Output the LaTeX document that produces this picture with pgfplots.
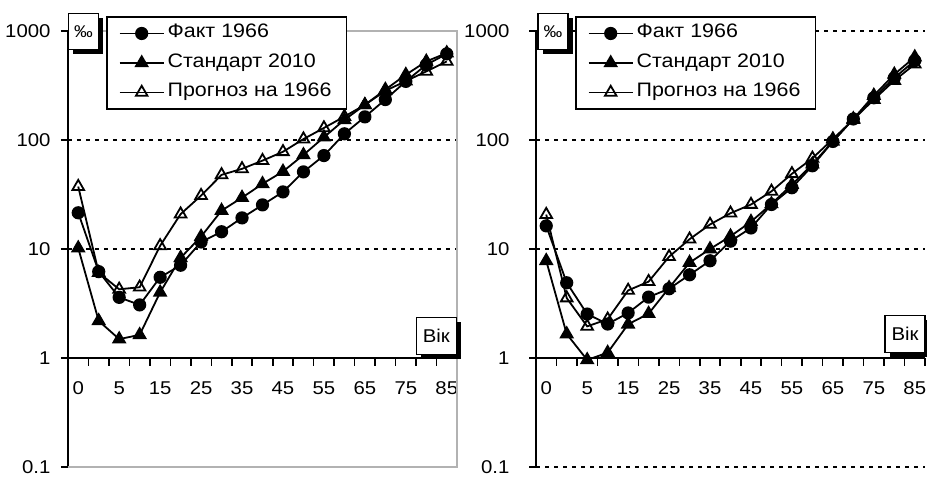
\documentclass[border=0pt]{standalone}
\usepackage{fontspec}
\setmainfont{Liberation Sans}[FakeStretch=1.1]
\usepackage{pgfplots}
\usepackage{pgfplotstable}
\pgfplotsset{compat=1.18}

\pgfplotstableread{
idx f1 s1 p1 f2 s2 p2
0 21.5 10.2 37.4 16.3 7.8 20.7
1 6.2 2.19 6.07 4.9 1.66 3.55
2 3.6 1.49 4.27 2.53 0.96 1.95
3 3.07 1.63 4.46 2.05 1.12 2.27
4 5.5 4.0 10.7 2.59 2.04 4.17
5 7.1 8.3 20.9 3.62 2.55 5.02
6 11.6 13.0 30.9 4.32 4.4 8.5
7 14.4 22.5 47.9 5.8 7.5 12.3
8 19.3 29.6 54.4 7.8 10.0 16.8
9 25.4 39.6 64.7 11.8 13.1 21.3
10 33.4 51.4 78 15.6 17.8 25.6
11 51 73 102 25.6 25.9 33.8
12 72 106 129 36.5 39 49
13 114 153 164 58 60 68
14 163 210 210 97 97 102
15 235 290 283 156 156 154
16 345 397 347 244 256 235
17 490 526 426 371 400 351
18 617 628 526 535 576 496
}\data

\newcommand{\tickfont}{\fontsize{18.5}{20}\selectfont}
\newcommand{\legfont}{\fontsize{19.5}{21}\selectfont}

\tikzset{
  boxlab/.style={draw=black, line width=1.4pt, fill=white, inner sep=0pt},
  boxsh/.style={fill=black, draw=none, inner sep=0pt},
  fakt/.style={mark=*, mark size=5.7pt, mark options={solid, fill=black}},
  stand/.style={mark=triangle*, mark size=6.7pt, mark options={solid, fill=black}},
  progn/.style={mark=triangle, mark size=6.7pt, mark options={solid, fill=white}},
}

\begin{document}
\begin{tikzpicture}
\path[use as bounding box] (0pt,0pt) rectangle (927pt,477pt);

\begin{axis}[at={(68pt,10pt)}, anchor=south west,
    scale only axis, width=389pt, height=436pt,
    xmin=-0.5, xmax=18.5, ymode=log, ymin=0.1, ymax=1000,
    axis x line=middle, axis y line=left,
    x axis line style={-, line width=1.8pt},
    y axis line style={-, line width=1.8pt},
    xtick={0,2,...,18}, xticklabels={0,5,15,25,35,45,55,65,75,85},
    major x tick style={draw=none},
    minor xtick={-0.5,0.5,...,18.5},
    minor x tick style={line width=1.6pt, black},
    minor tick length=8pt,
    ytick={0.1,1,10,100,1000}, yticklabels={0.1,1,10,100,1000},
    yminorticks=false,
    tick align=outside,
    major tick length=7pt,
    y tick style={line width=1.6pt, black},
    ymajorgrids,
    major grid style={black, line width=1.4pt, dash pattern=on 4pt off 5pt},
    tick label style={font=\tickfont},
    xticklabel style={yshift=-13pt},
    yticklabel style={xshift=-7pt},
    clip=false,
    legend cell align=left,
    legend image code/.code={\draw[mark repeat=2,mark phase=2,line width=1.8pt,#1] plot coordinates {(0pt,0pt) (22pt,0pt) (44pt,0pt)};},
    legend style={at={(0.0977,1.034)}, anchor=north west, draw=black, line width=1.6pt, fill=white,
      font=\legfont, inner xsep=12pt, inner ysep=5pt, row sep=6.5pt,
      nodes={inner xsep=3pt, inner ysep=3pt, text height=13pt, text depth=4pt}},
    every axis plot/.append style={black, line width=1.8pt},
  ]
\draw[gray!60, line width=1.5pt] (rel axis cs:0,1) -- (rel axis cs:1,1) -- (rel axis cs:1,0) -- (rel axis cs:0,0);
\addplot[fakt] table[x=idx, y=f1] {\data};
\addplot[stand] table[x=idx, y=s1] {\data};
\addplot[progn] table[x=idx, y=p1] {\data};
\legend{Факт 1966, Стандарт 2010, Прогноз на 1966}
\node[boxsh, minimum width=30pt, minimum height=36pt] at ([shift={(4.5pt,-4.5pt)}]rel axis cs:0.04,0.999) {};
\node[boxlab, minimum width=30pt, minimum height=36pt, font=\fontsize{17}{18}\selectfont] at (rel axis cs:0.04,0.999) {‰};
\node[boxsh, minimum width=40pt, minimum height=37pt] at ([shift={(4.5pt,-4.5pt)}]rel axis cs:0.947,0.300) {};
\node[boxlab, minimum width=40pt, minimum height=37pt, font=\tickfont] at (rel axis cs:0.947,0.300) {Вік};
\end{axis}

\begin{axis}[at={(536pt,10pt)}, anchor=south west,
    scale only axis, width=389pt, height=436pt,
    xmin=-0.5, xmax=18.5, ymode=log, ymin=0.1, ymax=1000,
    axis x line=middle, axis y line=left,
    x axis line style={-, line width=1.8pt},
    y axis line style={-, line width=1.8pt},
    xtick={0,2,...,18}, xticklabels={0,5,15,25,35,45,55,65,75,85},
    major x tick style={draw=none},
    minor xtick={-0.5,0.5,...,18.5},
    minor x tick style={line width=1.6pt, black},
    minor tick length=8pt,
    ytick={0.1,1,10,100,1000}, yticklabels={0.1,1,10,100,1000},
    yminorticks=false,
    tick align=outside,
    major tick length=7pt,
    y tick style={line width=1.6pt, black},
    ymajorgrids,
    major grid style={black, line width=1.4pt, dash pattern=on 4pt off 5pt},
    tick label style={font=\tickfont},
    xticklabel style={yshift=-13pt},
    yticklabel style={xshift=-16pt},
    clip=false,
    legend cell align=left,
    legend image code/.code={\draw[mark repeat=2,mark phase=2,line width=1.8pt,#1] plot coordinates {(0pt,0pt) (22pt,0pt) (44pt,0pt)};},
    legend style={at={(0.1003,1.034)}, anchor=north west, draw=black, line width=1.6pt, fill=white,
      font=\legfont, inner xsep=12pt, inner ysep=5pt, row sep=6.5pt,
      nodes={inner xsep=3pt, inner ysep=3pt, text height=13pt, text depth=4pt}},
    every axis plot/.append style={black, line width=1.8pt},
  ]
\addplot[fakt] table[x=idx, y=f2] {\data};
\addplot[stand] table[x=idx, y=s2] {\data};
\addplot[progn] table[x=idx, y=p2] {\data};
\legend{Факт 1966, Стандарт 2010, Прогноз на 1966}
\node[boxsh, minimum width=30pt, minimum height=36pt] at ([shift={(4.5pt,-4.5pt)}]rel axis cs:0.0437,0.999) {};
\node[boxlab, minimum width=30pt, minimum height=36pt, font=\fontsize{17}{18}\selectfont] at (rel axis cs:0.0437,0.999) {‰};
\node[boxsh, minimum width=40pt, minimum height=37pt] at ([shift={(4.5pt,-4.5pt)}]rel axis cs:0.9486,0.305) {};
\node[boxlab, minimum width=40pt, minimum height=37pt, font=\tickfont] at (rel axis cs:0.9486,0.305) {Вік};
\end{axis}
\end{tikzpicture}
\end{document}
